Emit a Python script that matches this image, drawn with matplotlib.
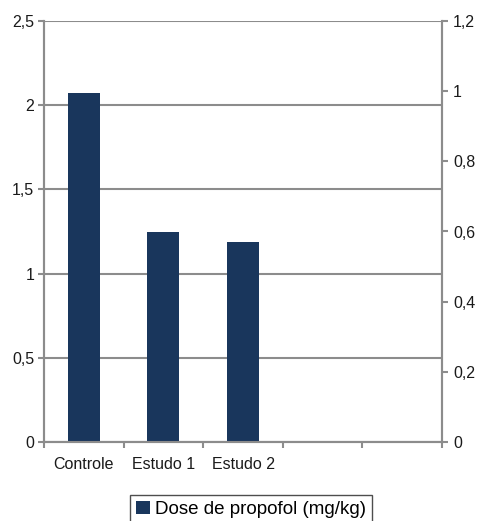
import matplotlib
matplotlib.use('Agg')
import matplotlib.pyplot as plt
from matplotlib.patches import Patch

plt.rcParams['font.family'] = ['Liberation Sans', 'DejaVu Sans']

# five category slots, only the first three carry data
categories = ['Controle', 'Estudo 1', 'Estudo 2', '', '']
dose = [2.07, 1.25, 1.19]
series_name = 'Dose de propofol (mg/kg)'
left_ticks = [0, 0.5, 1, 1.5, 2, 2.5]
right_ticks = [0, 0.2, 0.4, 0.6, 0.8, 1.0, 1.2]


def comma(v):
    s = f'{v:g}'
    return s.replace('.', ',')


grey = '#8c8c8c'
bar_color = '#19365c'
label_size = 11.5

fig = plt.figure(figsize=(4.81, 5.21), dpi=100)
ax = fig.add_axes([44 / 481, 1 - 442 / 521, 398 / 481, 421 / 521])
ax2 = ax.twinx()

pos = [i + 0.5 for i in range(len(dose))]
ax.bar(pos, dose, width=0.4, color=bar_color, zorder=3)

ax.set_xlim(0, len(categories))
ax.set_ylim(0, 2.5)
ax.set_yticks(left_ticks)
ax.set_yticklabels([comma(v) for v in left_ticks])
ax.yaxis.grid(True, color=grey, linewidth=1.5, zorder=0)
ax.set_axisbelow(True)

# slot boundaries as major ticks, names centred on minor ticks
ax.set_xticks(range(len(categories) + 1))
ax.set_xticklabels([])
ax.set_xticks([i + 0.5 for i in range(len(categories))], minor=True)
ax.set_xticklabels(categories, minor=True)
ax.tick_params(axis='x', which='major', direction='out', length=4,
               width=1.5, color=grey)
ax.tick_params(axis='x', which='minor', length=0, pad=11,
               labelsize=label_size, labelcolor='#1a1a1a')
ax.tick_params(axis='y', direction='out', length=4, width=1.5, color=grey,
               pad=3, labelsize=label_size, labelcolor='#1a1a1a')

ax2.set_ylim(0, 1.2)
ax2.set_yticks(right_ticks)
ax2.set_yticklabels([comma(v) for v in right_ticks])
ax2.tick_params(axis='y', direction='out', length=4, width=1.5, color=grey,
                pad=4, labelsize=label_size, labelcolor='#1a1a1a')

for a in (ax, ax2):
    a.spines['top'].set_visible(False)
    for side in ('left', 'right', 'bottom'):
        a.spines[side].set_color(grey)
        a.spines[side].set_linewidth(1.5)

handle = Patch(facecolor=bar_color, edgecolor='none')
leg = fig.legend([handle], [series_name], loc='upper center',
                 bbox_to_anchor=(251 / 481, 1 - 495 / 521),
                 fontsize=13.5, frameon=True, fancybox=False,
                 edgecolor='#222222', handlelength=0.75, handleheight=0.75,
                 handletextpad=0.25, borderpad=0.3, borderaxespad=0)
leg.get_frame().set_linewidth(1.0)

fig.savefig('out.png', dpi=100, facecolor='white')
